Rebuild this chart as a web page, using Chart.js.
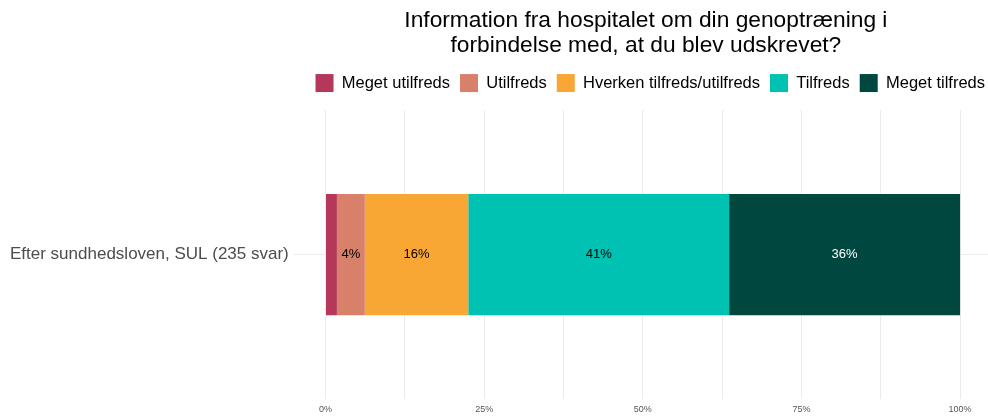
<!DOCTYPE html>
<html>
<head>
<meta charset="utf-8">
<script src="https://cdn.jsdelivr.net/npm/chart.js@4"></script>
<style>
  body { margin: 0; background: #fff; }
  #wrap { width: 988px; height: 416px; position: relative; }
</style>
</head>
<body>
<div id="wrap"><canvas id="myChart"></canvas></div>
<script>
// data (percent of 235 answers)
const categories = ['Efter sundhedsloven, SUL (235 svar)'];
const seriesNames = ['Meget utilfreds', 'Utilfreds', 'Hverken tilfreds/utilfreds', 'Tilfreds', 'Meget tilfreds'];
const meget_utilfreds = [1.8];
const utilfreds = [4.4];
const hverken = [16.3];
const tilfreds = [41.1];
const meget_tilfreds = [36.4];
const tickValues = [0, 12.5, 25, 37.5, 50, 62.5, 75, 87.5, 100];

const colors = ['#b5375a', '#d9806a', '#f8a634', '#00c2b3', '#00473f'];
const labelColors = ['#000', '#000', '#000', '#000', '#fff'];
const seriesValues = [meget_utilfreds, utilfreds, hverken, tilfreds, meget_tilfreds];

const fontFamily = '"Liberation Sans", Arial, sans-serif';

// writes the percent in the middle of each segment
const segmentLabels = {
  id: 'segmentLabels',
  afterDatasetsDraw(chart) {
    const ctx = chart.ctx;
    ctx.save();
    ctx.font = '13px ' + fontFamily;
    ctx.textAlign = 'center';
    ctx.textBaseline = 'middle';
    chart.data.datasets.forEach((ds, i) => {
      chart.getDatasetMeta(i).data.forEach((bar, j) => {
        const v = ds.data[j];
        if (v < 3) return;
        const p = bar.getProps(['x', 'base', 'y']);
        ctx.fillStyle = labelColors[i];
        ctx.fillText(Math.round(v) + '%', (p.x + p.base) / 2, p.y);
      });
    });
    ctx.restore();
  }
};

// a bit more room under the legend, legend closer to the right edge,
// title nudged right a little
const legendSpace = {
  id: 'legendSpace',
  beforeInit(chart) {
    const fit = chart.legend.fit;
    chart.legend.fit = function () {
      fit.call(this);
      this.height += 8;
    };
  },
  afterLayout(chart) {
    chart.legend.right = chart.width + 7;
    chart.titleBlock.left += 5;
    chart.titleBlock.right += 5;
  }
};

const ctx = document.getElementById('myChart').getContext('2d');

new Chart(ctx, {
  type: 'bar',
  data: {
    labels: categories,
    datasets: seriesNames.map((name, i) => ({
      label: name,
      data: seriesValues[i],
      backgroundColor: colors[i],
      borderWidth: 0,
      categoryPercentage: 1,
      barPercentage: 0.42
    }))
  },
  options: {
    indexAxis: 'y',
    responsive: true,
    maintainAspectRatio: false,
    animation: false,
    layout: { padding: { left: 5, right: 0, top: 0, bottom: -4 } },
    scales: {
      x: {
        stacked: true,
        min: -5,
        max: 104.4,
        afterBuildTicks: axis => {
          axis.ticks = tickValues.map(v => ({ value: v }));
        },
        ticks: {
          autoSkip: false,
          maxRotation: 0,
          padding: 5,
          color: '#555',
          font: { family: fontFamily, size: 9 },
          callback: v => (v % 25 === 0 ? v + '%' : '')
        },
        grid: { color: '#ebebeb', drawTicks: false },
        border: { display: false }
      },
      y: {
        stacked: true,
        ticks: {
          padding: 5,
          color: '#4d4d4d',
          font: { family: fontFamily, size: 17 }
        },
        grid: { color: '#ebebeb', drawTicks: false, offset: false },
        border: { display: false }
      }
    },
    plugins: {
      title: {
        display: true,
        fullSize: false,
        text: ['Information fra hospitalet om din genoptræning i', 'forbindelse med, at du blev udskrevet?'],
        color: '#000',
        font: { family: fontFamily, size: 22.75, weight: 'normal', lineHeight: 1.1 },
        padding: { top: 8, bottom: 6 }
      },
      legend: {
        display: true,
        align: 'end',
        labels: {
          boxWidth: 18,
          boxHeight: 18,
          padding: 10,
          color: '#000',
          font: { family: fontFamily, size: 16.5 }
        }
      },
      tooltip: { enabled: false }
    }
  },
  plugins: [segmentLabels, legendSpace]
});
</script>
</body>
</html>
